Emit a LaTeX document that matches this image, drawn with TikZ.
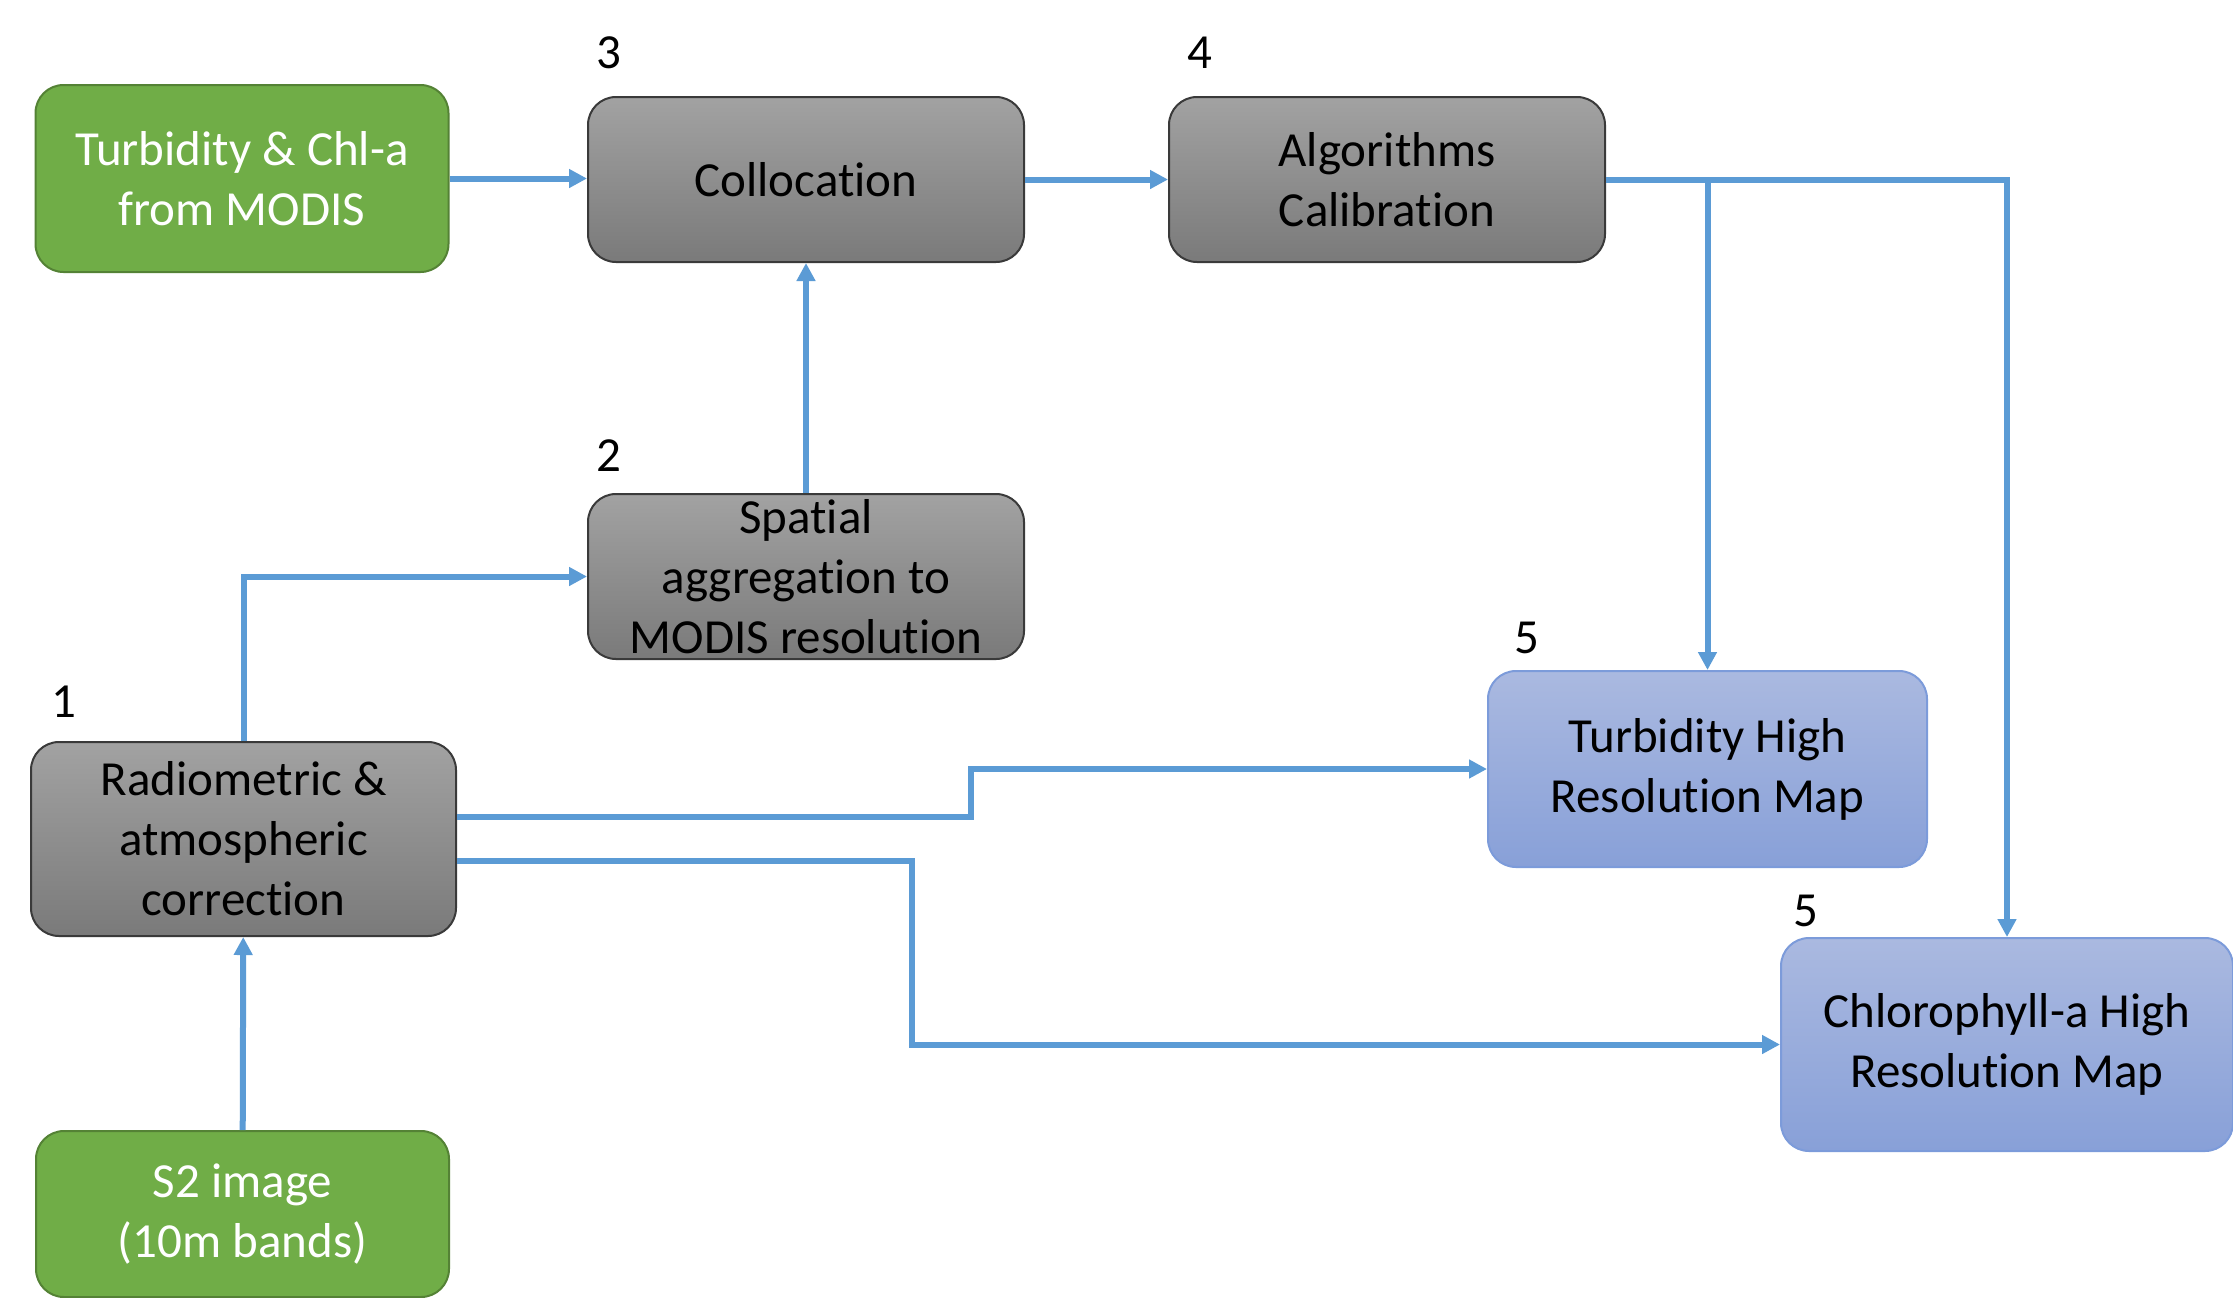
\documentclass[tikz,border=0pt]{standalone}
\usepackage{fontspec}
\setmainfont{Carlito}[Ligatures={NoCommon}]
\usetikzlibrary{arrows.meta,calc,positioning}
\definecolor{wqink}{HTML}{000000}
\definecolor{wqgreen}{HTML}{70AD47}
\definecolor{wqgreenline}{HTML}{548235}
\definecolor{wqgraytop}{HTML}{A2A2A2}
\definecolor{wqgraybot}{HTML}{7A7A7A}
\definecolor{wqgrayline}{HTML}{3A3A3A}
\definecolor{wqbluetop}{HTML}{AAB9E0}
\definecolor{wqbluebot}{HTML}{88A0D8}
\definecolor{wqblueline}{HTML}{7C9BDA}
\definecolor{wqarrow}{HTML}{5B9BD5}
\tikzset{
  wq text/.style={font=\fontsize{24.5}{30}\selectfont, text=wqink},
  wq box/.style={line width=1pt, rounded corners=14pt, align=center,
    inner sep=0pt, font=\fontsize{24.5}{30}\selectfont},
  wq input/.style={wq box, draw=wqgreenline, fill=wqgreen, text=white},
  wq stepbox/.style={wq box, draw=wqgrayline, top color=wqgraytop,
    bottom color=wqgraybot, text=wqink},
  wq output/.style={wq box, draw=wqblueline, top color=wqbluetop,
    bottom color=wqbluebot, text=wqink},
  wq flow/.style={-{Triangle[length=9pt,width=9pt]}, line width=3pt,
    draw=wqarrow},
  wq num/.style={font=\fontsize{24.5}{30}\selectfont, text=wqink}
}

\begin{document}
\begin{tikzpicture}[wq text, x=0.5pt, y=-0.5pt]
  \useasboundingbox[fill=white] (0,0) rectangle (2233,1297);
  % boxes
  \node[wq input, minimum width=206.5pt, minimum height=93.5pt] (modis) at (242,178.5) {Turbidity \& Chl-a\\from MODIS};
  \node[wq stepbox, minimum width=218pt, minimum height=82.5pt] (colloc) at (806,179.5) {Collocation};
  \node[wq stepbox, minimum width=218pt, minimum height=82.5pt] (algo) at (1387,179.5) {Algorithms\\Calibration};
  \node[wq stepbox, minimum width=218pt, minimum height=82.5pt] (spatial) at (806,576.5) {Spatial\\aggregation to\\MODIS resolution};
  \node[wq stepbox, minimum width=212.5pt, minimum height=97pt] (radio) at (243.5,839) {Radiometric \&\\atmospheric\\correction};
  \node[wq input, minimum width=206.5pt, minimum height=83pt] (s2) at (242.5,1214) {S2 image\\(10m bands)};
  \node[wq output, minimum width=219.5pt, minimum height=98pt] (turb) at (1707.5,769) {Turbidity High\\Resolution Map};
  \node[wq output, minimum width=226pt, minimum height=106.5pt] (chl) at (2007,1044.5) {Chlorophyll-a High\\Resolution Map};
  % step numbers
  \node[wq num] (n3) at (609,53) {3};
  \node[wq num] (n4) at (1200,53) {4};
  \node[wq num] (n2) at (609,456) {2};
  \node[wq num] (n1) at (64,702) {1};
  \node[wq num] (n5a) at (1527,638) {5};
  \node[wq num] (n5b) at (1806,911) {5};
  % connectors
  \draw[wq flow] (modis.east) -- (modis.east -| colloc.west);
  \draw[wq flow] (colloc) -- (algo);
  \draw[wq flow] (spatial) -- (colloc);
  \draw[wq flow] (s2) -- (radio);
  \draw[wq flow] (radio.north) |- (spatial.west);
  \draw[wq flow] (algo.east) -| (chl.north);
  \draw[wq flow] (algo.east) -| (turb.north);
  \draw[wq flow] ([yshift=11pt]radio.east) -- ++(514,0) |- (turb.west);
  \draw[wq flow] ([yshift=-11pt]radio.east) -- ++(455,0) |- (chl.west);
\end{tikzpicture}
\end{document}
